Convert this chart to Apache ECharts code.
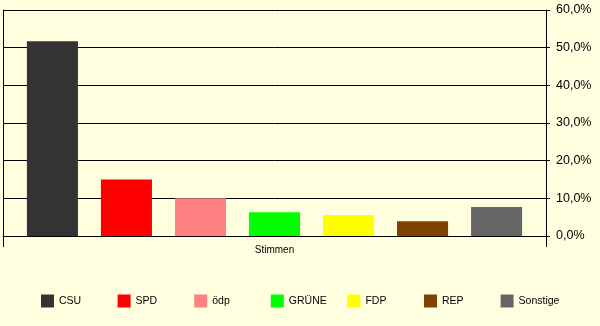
<!DOCTYPE html>
<html>
<head>
<meta charset="utf-8">
<script src="https://cdn.jsdelivr.net/npm/echarts@6/dist/echarts.min.js"></script>
<style>html,body{margin:0;padding:0;background:#FFFFE0;}#c{width:600px;height:326px;}</style>
</head>
<body>
<div id="c"></div>
<script>
const categories = ['Stimmen'];
const parties = ['CSU', 'SPD', 'ödp', 'GRÜNE', 'FDP', 'REP', 'Sonstige'];
const values = [51.7, 15.0, 10.0, 6.3, 5.6, 3.9, 7.7];
const yTicks = { min: 0, max: 60, interval: 10 };
const palette = ['#333333', '#FF0000', '#FF8080', '#00FF00', '#FFFF00', '#804000', '#666666'];

const font = 'Liberation Sans, Arial, sans-serif';
const chart = echarts.init(document.getElementById('c'), null, { renderer: 'canvas' });
const series = parties.map((p, i) => ({
  name: p,
  type: 'bar',
  yAxisIndex: 0,
  data: [values[i]],
  itemStyle: { color: palette[i] },
  barGap: '45%',
  barCategoryGap: '8.8%',
  animation: false
}));
const legendStart = 41, legendPitch = 76.6;
const legends = parties.map((p, i) => ({
  data: [p],
  left: legendStart + i * legendPitch,
  top: 294.5,
  padding: 0,
  itemWidth: 13,
  itemHeight: 13,
  icon: 'rect',
  textStyle: { fontFamily: font, fontSize: 10.5, color: '#000' },
  selectedMode: false
}));
chart.setOption({
  backgroundColor: '#FFFFE0',
  animation: false,
  textStyle: { fontFamily: font },
  grid: { left: 3, right: 54, top: 10, bottom: 90, containLabel: false },
  legend: legends,
  xAxis: {
    type: 'category',
    data: categories,
    boundaryGap: true,
    axisLine: { show: true, lineStyle: { color: '#000', width: 1 } },
    axisTick: { show: true, length: 11, lineStyle: { color: '#000' } },
    axisLabel: { color: '#000', fontSize: 10, fontFamily: font, margin: 9 },
    splitLine: { show: false }
  },
  yAxis: [
    {
      type: 'value',
      position: 'right',
      min: yTicks.min, max: yTicks.max, interval: yTicks.interval,
      axisLine: { show: true, lineStyle: { color: '#000', width: 1 } },
      axisTick: { show: true, length: 4, lineStyle: { color: '#000' } },
      axisLabel: {
        color: '#000', fontSize: 12.5, fontFamily: font, margin: 10,
        formatter: v => v.toFixed(1).replace('.', ',') + '%'
      },
      splitLine: { show: true, lineStyle: { color: '#000', width: 1 } }
    },
    {
      type: 'value',
      position: 'left',
      min: yTicks.min, max: yTicks.max, interval: yTicks.interval,
      axisLine: { show: true, lineStyle: { color: '#000', width: 1 } },
      axisTick: { show: false },
      axisLabel: { show: false },
      splitLine: { show: false }
    }
  ],
  series: series
});
</script>
</body>
</html>
